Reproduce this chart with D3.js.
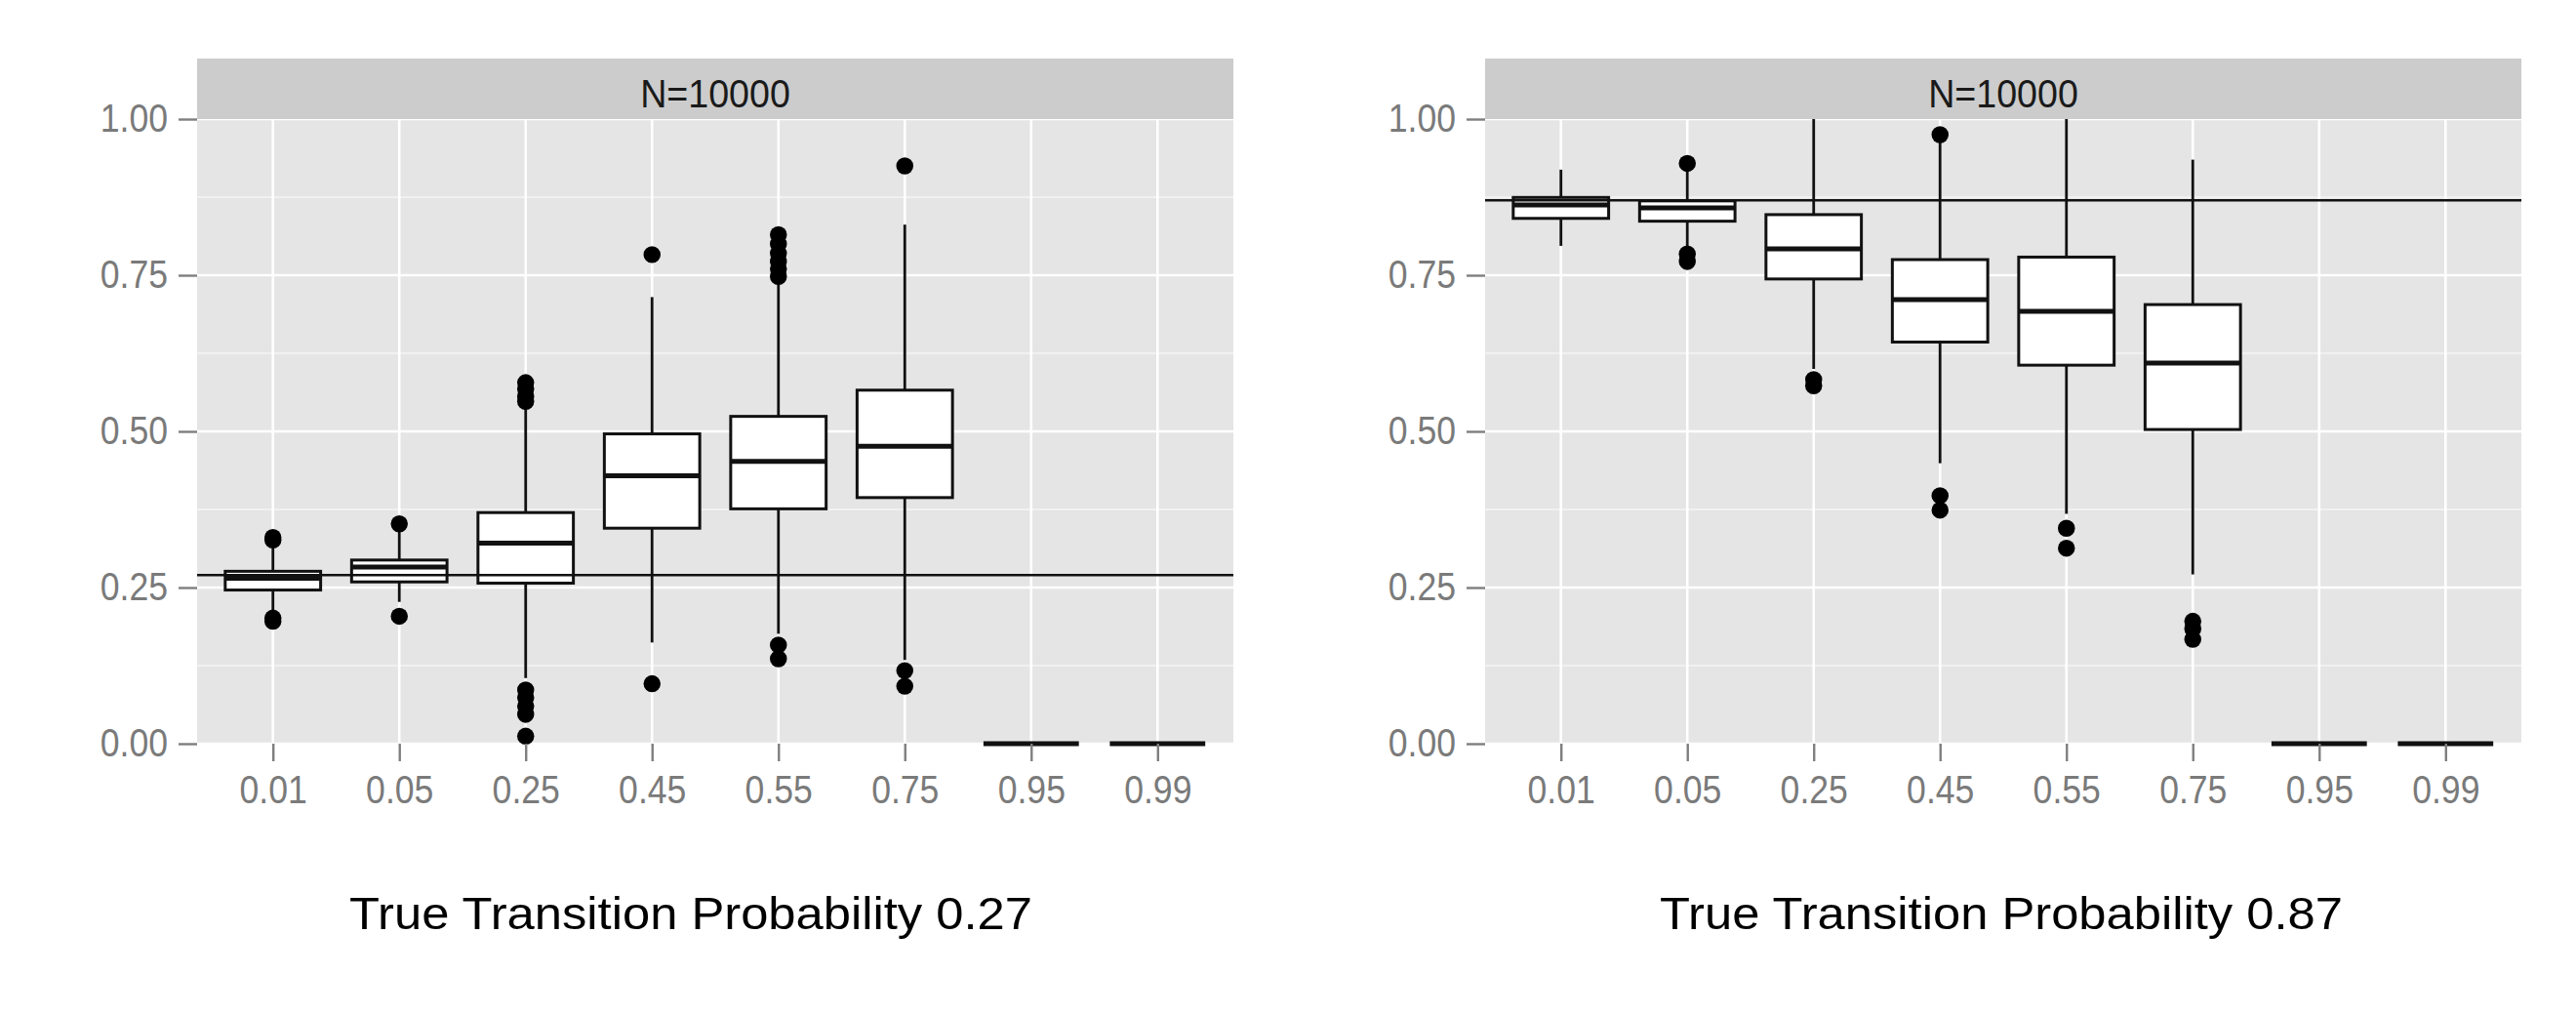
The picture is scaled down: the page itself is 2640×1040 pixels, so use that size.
<!DOCTYPE html>
<html>
<head>
<meta charset="utf-8">
<script src="https://cdn.jsdelivr.net/npm/d3@7"></script>
<style>
  html, body { margin: 0; padding: 0; background: #ffffff; }
  svg { display: block; }
</style>
</head>
<body>
<svg id="chart" width="2640" height="1040"></svg>
<script>
// ---------- data ----------
const categories = ["0.01", "0.05", "0.25", "0.45", "0.55", "0.75", "0.95", "0.99"];
const yTicks = [0, 0.25, 0.5, 0.75, 1];
const minorTicks = [0.125, 0.375, 0.625, 0.875];
const stripLabel = "N=10000";
const panelTitles = ["True Transition Probability 0.27", "True Transition Probability 0.87"];
const trueValues = [0.27, 0.87];

// left panel (true 0.27)
const leftLow    = [0.211, 0.227, 0.105, 0.162, 0.176, 0.134, 0, 0];
const leftQ1     = [0.246, 0.259, 0.257, 0.345, 0.376, 0.394, 0, 0];
const leftMedian = [0.265, 0.283, 0.321, 0.429, 0.452, 0.476, 0, 0];
const leftQ3     = [0.276, 0.294, 0.370, 0.496, 0.524, 0.566, 0, 0];
const leftHigh   = [0.318, 0.342, 0.536, 0.715, 0.736, 0.831, 0, 0];
const leftOutliers = [
  [0.330, 0.326, 0.201, 0.196],
  [0.352, 0.204],
  [0.578, 0.568, 0.556, 0.548, 0.086, 0.074, 0.060, 0.047, 0.012],
  [0.783, 0.096],
  [0.815, 0.800, 0.785, 0.772, 0.760, 0.748, 0.158, 0.136],
  [0.925, 0.117, 0.092],
  [],
  []
];

// right panel (true 0.87)
const rightLow    = [0.797, 0.795, 0.600, 0.449, 0.368, 0.271, 0, 0];
const rightQ1     = [0.841, 0.8365, 0.744, 0.643, 0.606, 0.503, 0, 0];
const rightMedian = [0.8625, 0.858, 0.792, 0.711, 0.692, 0.6095, 0, 0];
const rightQ3     = [0.8745, 0.869, 0.847, 0.775, 0.779, 0.703, 0, 0];
const rightHigh   = [0.919, 0.920, 1.0, 0.967, 1.0, 0.935, 0, 0];
const rightOutliers = [
  [],
  [0.929, 0.784, 0.772],
  [0.583, 0.573],
  [0.975, 0.397, 0.374],
  [0.345, 0.313],
  [0.196, 0.184, 0.167],
  [],
  []
];

const panels = [
  { title: panelTitles[0], truth: trueValues[0], low: leftLow, q1: leftQ1, med: leftMedian, q3: leftQ3, high: leftHigh, out: leftOutliers },
  { title: panelTitles[1], truth: trueValues[1], low: rightLow, q1: rightQ1, med: rightMedian, q3: rightQ3, high: rightHigh, out: rightOutliers }
];

// ---------- layout ----------
const svg = d3.select("#chart");
svg.append("rect").attr("width", 2640).attr("height", 1040).attr("fill", "#ffffff");

const panelOffset = 1320;
const pLeft = 202, pRight = 1264, pTop = 122, pBottom = 762, stripTop = 60;
const titleCenters = [708, 2051];
const axisFont = "'Liberation Sans', Arial, sans-serif";
const markerSymbol = d3.symbol().type(d3.symbolCircle).size(240);

function condense(sel, factor) {
  sel.each(function () {
    const w = this.getComputedTextLength();
    d3.select(this).attr("textLength", w * factor).attr("lengthAdjust", "spacingAndGlyphs");
  });
}

panels.forEach((p, pi) => {
  const off = pi * panelOffset;
  const g = svg.append("g");

  const x = d3.scalePoint().domain(categories).range([pLeft + off, pRight + off]).padding(0.6);
  const y = d3.scaleLinear().domain([0, 1]).range([pBottom, pTop]);
  const boxW = x.step() * 0.755;

  // panel background
  g.append("rect")
    .attr("x", pLeft + off).attr("y", pTop)
    .attr("width", pRight - pLeft).attr("height", pBottom - pTop)
    .attr("fill", "#E5E5E5");

  // minor grid
  g.selectAll(".minor").data(minorTicks).join("line")
    .attr("x1", pLeft + off).attr("x2", pRight + off)
    .attr("y1", d => y(d)).attr("y2", d => y(d))
    .attr("stroke", "#F4F4F4").attr("stroke-width", 1.5);

  // major grid
  g.selectAll(".major").data(yTicks).join("line")
    .attr("x1", pLeft + off).attr("x2", pRight + off)
    .attr("y1", d => y(d)).attr("y2", d => y(d))
    .attr("stroke", "#FFFFFF").attr("stroke-width", 2.6);
  g.selectAll(".vmajor").data(categories).join("line")
    .attr("x1", d => x(d)).attr("x2", d => x(d))
    .attr("y1", pTop).attr("y2", pBottom)
    .attr("stroke", "#FFFFFF").attr("stroke-width", 2.6);

  // strip
  g.append("rect")
    .attr("x", pLeft + off).attr("y", stripTop)
    .attr("width", pRight - pLeft).attr("height", pTop - stripTop)
    .attr("fill", "#CCCCCC");
  const st = g.append("text")
    .attr("x", (pLeft + pRight) / 2 + off).attr("y", 110)
    .attr("text-anchor", "middle")
    .attr("font-family", axisFont).attr("font-size", 40)
    .attr("fill", "#1A1A1A")
    .text(stripLabel);
  condense(st, 0.94);

  // boxplots
  const boxes = categories.map((c, i) => ({
    c, low: p.low[i], q1: p.q1[i], med: p.med[i], q3: p.q3[i], high: Math.min(1, p.high[i]), out: p.out[i]
  }));
  const bg = g.selectAll(".box").data(boxes).join("g");

  bg.append("line")
    .attr("x1", d => x(d.c)).attr("x2", d => x(d.c))
    .attr("y1", d => y(d.q3)).attr("y2", d => y(d.high))
    .attr("stroke", "#111111").attr("stroke-width", 2.8);
  bg.append("line")
    .attr("x1", d => x(d.c)).attr("x2", d => x(d.c))
    .attr("y1", d => y(d.q1)).attr("y2", d => y(d.low))
    .attr("stroke", "#111111").attr("stroke-width", 2.8);
  bg.append("rect")
    .attr("x", d => x(d.c) - boxW / 2).attr("width", boxW)
    .attr("y", d => y(d.q3)).attr("height", d => y(d.q1) - y(d.q3))
    .attr("fill", "#ffffff").attr("stroke", "#111111").attr("stroke-width", 3);
  bg.append("line")
    .attr("x1", d => x(d.c) - boxW / 2).attr("x2", d => x(d.c) + boxW / 2)
    .attr("y1", d => y(d.med)).attr("y2", d => y(d.med))
    .attr("stroke", "#111111").attr("stroke-width", 5);
  bg.selectAll("path.out").data(d => d.out.map(v => ({ c: d.c, v }))).join("path")
    .attr("class", "out")
    .attr("transform", d => `translate(${x(d.c)},${y(d.v)})`)
    .attr("d", markerSymbol)
    .attr("fill", "#000000");

  // reference line
  g.append("line")
    .attr("x1", pLeft + off).attr("x2", pRight + off)
    .attr("y1", y(p.truth)).attr("y2", y(p.truth))
    .attr("stroke", "#111111").attr("stroke-width", 2.5);

  // axes
  const ya = g.append("g")
    .attr("transform", `translate(${pLeft + off},0)`)
    .call(d3.axisLeft(y).tickValues(yTicks).tickFormat(d3.format(".2f")).tickSize(19).tickPadding(11));
  ya.select(".domain").remove();
  ya.selectAll(".tick line").attr("stroke", "#7F7F7F").attr("stroke-width", 2.4);
  ya.selectAll(".tick text")
    .attr("font-family", axisFont).attr("font-size", 40)
    .attr("fill", "#7A7A7A");
  condense(ya.selectAll(".tick text"), 0.89);

  const xa = g.append("g")
    .attr("transform", `translate(0,${pBottom})`)
    .call(d3.axisBottom(x).tickSize(18).tickPadding(15));
  xa.select(".domain").remove();
  xa.selectAll(".tick line").attr("stroke", "#7F7F7F").attr("stroke-width", 2.4);
  xa.selectAll(".tick text")
    .attr("font-family", axisFont).attr("font-size", 40)
    .attr("fill", "#7A7A7A");
  condense(xa.selectAll(".tick text"), 0.89);

  // panel title (below)
  g.append("text")
    .attr("x", titleCenters[pi]).attr("y", 952)
    .attr("text-anchor", "middle")
    .attr("font-family", axisFont).attr("font-size", 47)
    .attr("fill", "#000000")
    .attr("textLength", 700).attr("lengthAdjust", "spacingAndGlyphs")
    .text(p.title);
});
</script>
</body>
</html>
